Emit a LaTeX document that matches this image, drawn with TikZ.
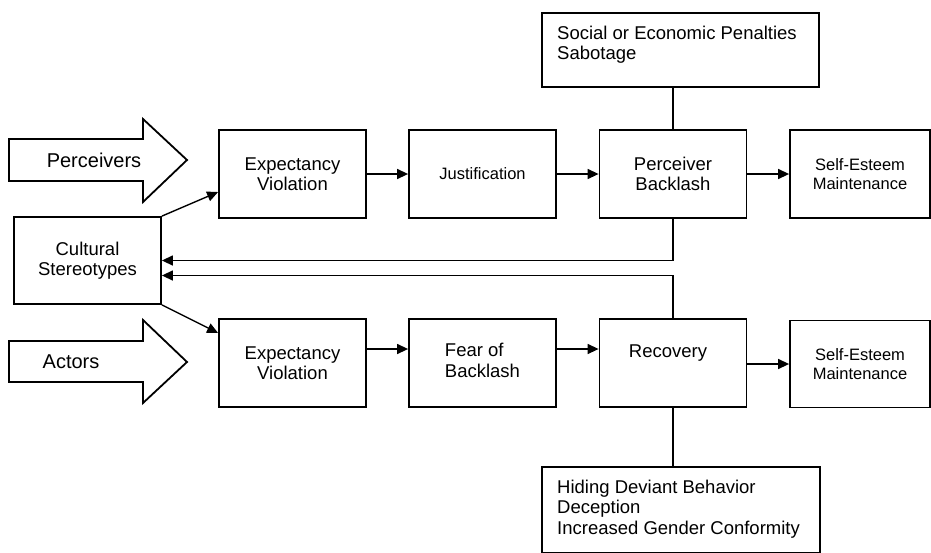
\documentclass[tikz,border=0pt]{standalone}
\usepackage{fontspec}
\setmainfont{Liberation Sans}
\usetikzlibrary{arrows.meta}
\begin{document}
\begin{tikzpicture}[x=1pt,y=-1pt,
  box/.style={draw,line width=1.8pt,inner sep=0pt,minimum width=147pt,minimum height=88pt},
  txt/.style={font=\fontsize{18.5}{20.5}\selectfont,align=center,inner sep=0pt},
  stxt/.style={font=\fontsize{16.5}{19}\selectfont,align=center,inner sep=0pt},
  ltxt/.style={font=\fontsize{18.5}{20.8}\selectfont,align=left,inner sep=0pt,anchor=north west},
  btxt/.style={font=\fontsize{20}{24}\selectfont,inner sep=0pt},
  conn/.style={line width=1.4pt,-{Triangle[length=11pt,width=10pt]}},
  plain/.style={line width=1.4pt},
  bigarrow/.style={draw,line width=1.8pt,line join=miter}]
\useasboundingbox (0,0) rectangle (931,552);

% top and bottom list boxes
\node[box,minimum width=277pt,minimum height=74pt] (top) at (680.5,50) {};
\node[ltxt] (toptext) at (557,25.5) {Social or Economic Penalties\\Sabotage};
\node[box,minimum width=278pt,minimum height=86pt] (bot) at (681,510) {};
\node[ltxt] (bottext) at (557,479.5) {Hiding Deviant Behavior\\Deception\\Increased Gender Conformity};

% top row
\node[box,txt] (ev1) at (292.5,174) {Expectancy\\Violation};
\node[box,stxt] (just) at (482.5,174) {Justification};
\node[box,txt] (pb) at (673,174) {Perceiver\\Backlash};
\node[box,stxt,minimum width=140pt] (se1) at (860,174) {Self-Esteem\\Maintenance};

% cultural stereotypes
\node[box,txt,minimum height=87pt] (cs) at (87.5,260.5) {Cultural\\Stereotypes};

% bottom row
\node[box,txt] (ev2) at (292.5,363) {Expectancy\\Violation};
\node[box,txt] (fear) at (482.5,363) {\begin{tabular}{@{}l@{}}Fear of\\Backlash\end{tabular}};
\node[box] (rec) at (673,363) {};
\node[txt] (rectext) at (668,353) {Recovery};
\node[box,stxt,minimum width=140pt,minimum height=87pt] (se2) at (860,364) {Self-Esteem\\Maintenance};

% block arrows
\draw[bigarrow] (9,139) -- (143,139) -- (143,119) -- (187,160) -- (143,202) -- (143,181) -- (9,181) -- cycle;
\node[btxt] (perc) at (94,160) {Perceivers};
\draw[bigarrow] (9,341) -- (143,341) -- (143,320) -- (187,362) -- (143,403) -- (143,382) -- (9,382) -- cycle;
\node[btxt] (act) at (71,362) {Actors};

% connectors top row
\draw[conn] (ev1.east) -- (just.west);
\draw[conn] (just.east) -- (pb.west);
\draw[conn] (pb.east) -- (se1.west);
\draw[plain] (pb.north |- top.south) -- (pb.north);

% from stereotypes
\draw[conn] (cs.north east) -- ([yshift=-18pt]ev1.west);
\draw[conn] (cs.south east) -- ([yshift=30pt]ev2.west);

% feedback
\draw[conn] (pb.south) |- (cs.east);
\draw[conn] (rec.north) |- ([yshift=-15pt]cs.east);

% connectors bottom row
\draw[conn] ([yshift=14pt]ev2.east) -- ([yshift=14pt]fear.west);
\draw[conn] ([yshift=14pt]fear.east) -- ([yshift=14pt]rec.west);
\draw[conn] ([yshift=-1pt]rec.east) -- ([yshift=-1pt]rec.east -| se2.west);
\draw[plain] (rec.south) -- (rec.south |- bot.north);
\end{tikzpicture}
\end{document}
